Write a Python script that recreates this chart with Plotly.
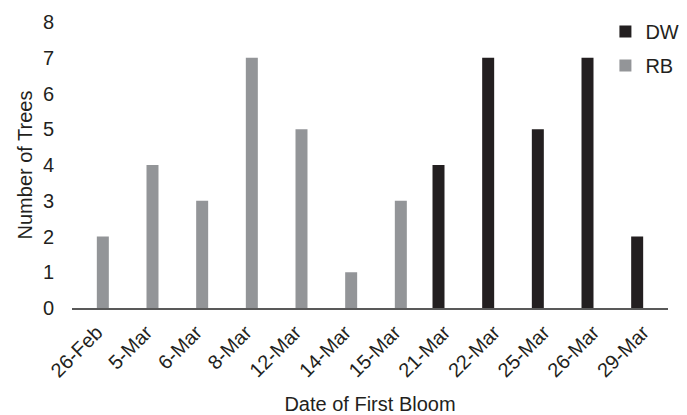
import plotly.graph_objects as go

categories = ["26-Feb", "5-Mar", "6-Mar", "8-Mar", "12-Mar", "14-Mar", "15-Mar",
              "21-Mar", "22-Mar", "25-Mar", "26-Mar", "29-Mar"]
dw_values = [None, None, None, None, None, None, None, 4, 7, 5, 7, 2]
rb_values = [2, 4, 3, 7, 5, 1, 3, None, None, None, None, None]

font_family = "Liberation Sans, Arial, sans-serif"
text_color = "#231f20"

fig = go.Figure()
fig.add_trace(go.Bar(name="DW", x=categories, y=dw_values, marker_color="#231f20",
                     marker_line_width=0, legendgroup="dw"))
fig.add_trace(go.Bar(name="RB", x=categories, y=rb_values, marker_color="#939598",
                     marker_line_width=0, legendgroup="rb"))

fig.update_layout(
    width=687, height=415,
    margin=dict(l=64, r=27, t=14, b=115, autoexpand=False),
    paper_bgcolor="white", plot_bgcolor="white",
    barmode="group", bargap=0.517, bargroupgap=0,
    font=dict(family=font_family, color=text_color, size=19),
    legend=dict(x=0.895, y=1.035, xanchor="left", yanchor="top",
                font=dict(size=20), itemwidth=30, tracegroupgap=5,
                traceorder="grouped", bgcolor="rgba(0,0,0,0)"),
    showlegend=True,
)
fig.update_xaxes(
    type="category", tickangle=-45, showgrid=False, showline=True, automargin=False,
    linecolor="#595959", linewidth=1.5, ticks="", tickfont=dict(size=20),
    ticklabelstandoff=3,
    title=dict(text="Date of First Bloom", font=dict(size=20), standoff=17),
)
fig.update_yaxes(
    range=[0, 8], dtick=1, showgrid=False, showline=False, zeroline=False,
    automargin=False, ticks="", ticklabelstandoff=17, tickfont=dict(size=20),
    title=dict(text="Number of Trees", font=dict(size=20), standoff=4),
)

fig.write_html("out.html")
